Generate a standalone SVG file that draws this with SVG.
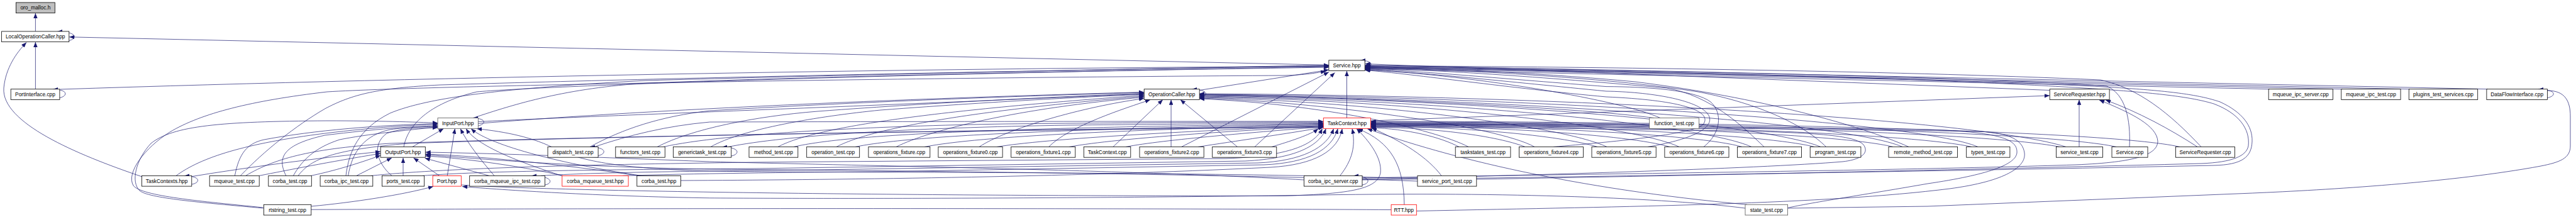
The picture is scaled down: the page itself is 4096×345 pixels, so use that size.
<svg xmlns="http://www.w3.org/2000/svg" width="4096" height="345" viewBox="0 0 4096 345">
<style>
.e{fill:none;stroke:#191970;stroke-width:0.7}
.a{marker-end:url(#ah)}
.n rect{fill:#fff;stroke:#000;stroke-width:0.8}
.n.red rect{stroke:#ff0000}
.n.gry rect{stroke:#555}
.n.root rect{fill:#bfbfbf}
.n text{font-family:"Liberation Sans",Arial,sans-serif;font-size:8.4px;text-anchor:middle;fill:#000}
</style>
<defs>
<marker id="ah" viewBox="0 0 10 8" refX="10" refY="4" markerWidth="8.2" markerHeight="6.5" markerUnits="userSpaceOnUse" orient="auto"><path d="M0,0L10,4L0,8z" fill="#191970"/></marker>
</defs>
<rect width="4096" height="345" fill="#fff"/>
<g id="edges">
<!-- core -->
<path class="e a" d="M56.4,49.9 V21"/>
<path class="e a" d="M109.8,64.5 C122,62 125,50.5 91,50.2"/>
<path class="e a" d="M56.4,141.7 V66.9"/>
<path class="e a" d="M94.9,155.5 C107,153 110,142.5 84,142"/>
<path class="e a" d="M226,281 C120,245 2,195 6,140 C9,108 26,84 42,67.5"/>
<path class="e a" d="M2112.9,103.4 L110.2,58.8"/>
<path class="e a" d="M95.6,142 C700,122 1500,108 2112.9,105.5"/>
<path class="e a" d="M2170.2,108.5 C2183,106.5 2186,96.5 2163,96"/>
<path class="e a" d="M1907.2,143.5 L2112.9,111"/>
<path class="e a" d="M1907.2,155.5 C1921,153 1924,142.5 1895,142"/>
<path class="e a" d="M2141.5,187.6 V112.8"/>
<path class="e a" d="M2179.4,192 L3259,152"/>
<path class="e a" d="M3259.2,143.5 L2170.5,101.5"/>
<path class="e a" d="M3609,141.7 L2170.5,109.5"/>
<path class="e a" d="M3725,141.7 L2170.5,107.5"/>
<path class="e a" d="M3832,141.7 L2170.5,105.5"/>
<path class="e a" d="M3956,141.7 L2170.5,103.5"/>
<path class="e a" d="M4050.5,155.5 C4064,153 4067,142.5 4036,142"/>
<path class="e" d="M4050.5,144 C4078,144 4087,160 4087,185 L4087,232 C4087,252 4070,258 4040,264 C3900,290 3700,302 3581.7,307 L3065,328 L2842.6,331"/>
<!-- IP / OP -->
<path class="e a" d="M760.3,200 C772,198 775,188 752,187.9"/>
<path class="e a" d="M760.3,193.5 C900,186 1400,168 1819.2,149"/>
<path class="e a" d="M752,187.6 C820,165 900,140 1030,132 C1400,118 1900,110 2112.9,107"/>
<path class="e a" d="M655.8,233.5 L705.3,204.6"/>
<path class="e a" d="M642,233.5 C648,200 680,165 758,146 C850,138 1300,120 2112.9,106"/>
<!-- lower left -->
<path class="e a" d="M304.8,293 C318,291 321,280 293,279.6"/>
<path class="e a" d="M280,279.4 C320,250 390,228 516.8,212 C600,202 650,199 696,198"/>
<path class="e a" d="M305,280.6 C400,265 500,252 605.1,241"/>
<path class="e a" d="M373.4,279.4 C380,245 392,228 420,222 C500,207 600,199 696,196.5"/>
<path class="e a" d="M382.3,279.4 C420,240 470,200 516.8,172.8 C560,150 600,140 700,135 C1200,120 1800,110 2112.9,104.5"/>
<path class="e a" d="M412,279.4 C460,270 520,258 605.1,244"/>
<path class="e a" d="M390.6,279.4 C440,250 500,236 620,228 C1000,215 1700,205 2104.3,201"/>
<path class="e a" d="M454.8,279.4 C440,250 450,230 516.8,215 C600,205 650,201 696,200"/>
<path class="e a" d="M466.4,279.4 C480,255 500,235 540,222 C700,190 1300,160 1819.2,146.5"/>
<path class="e a" d="M474,279.4 C495,252 530,238 650,228 C1100,212 1800,205 2104.3,202.5"/>
<path class="e a" d="M494.4,279.4 C530,272 570,260 605.1,247"/>
<path class="e a" d="M553.6,279.4 C560,240 580,215 620,206 C650,202 680,201 696,201.5"/>
<path class="e a" d="M566.8,279.4 L622.9,251"/>
<path class="e a" d="M550,279.4 C555,240 570,205 620,180 C680,155 800,140 1027,128 C1500,115 1900,108 2112.9,103.5"/>
<path class="e a" d="M590,279.4 C700,268 900,262 1200,258 L1950,252 C2050,248 2090,230 2102.6,204.5"/>
<path class="e a" d="M641,279.4 V251"/>
<path class="e a" d="M623,279.4 C600,260 590,230 615,212 C640,203 670,203 696,203"/>
<path class="e a" d="M672,279.4 C750,273 900,270 1200,268 L1980,256 C2060,252 2098,232 2108.3,204.5"/>
<path class="e a" d="M711.2,279.4 L723.4,204.6"/>
<path class="e a" d="M698.7,279.4 L657.5,251"/>
<path class="e a" d="M733.3,294 C900,305 1500,312 2043,311.4 C2150,308 2190,300 2195,275 C2198,250 2175,222 2157,204.6"/>
<path class="e a" d="M866.4,294 C879,292 881,280 845,279.6"/>
<path class="e a" d="M786,279.4 C765,255 745,230 732,204.6"/>
<path class="e a" d="M777.8,279.4 L675.6,251.5"/>
<path class="e a" d="M860,279.4 C950,274 1100,272 1300,270 L2000,259 C2070,256 2110,235 2120.6,204.6"/>
<path class="e a" d="M893,279.4 C840,262 760,235 741,204.6"/>
<path class="e a" d="M895,279.4 C820,262 720,250 676.5,248"/>
<path class="e a" d="M990,279.4 C1100,276 1250,274 1400,273 L2010,262 C2080,259 2118,238 2127.2,204.6"/>
<path class="e a" d="M1020,279.4 C900,262 780,232 749,204.6"/>
<path class="e a" d="M1015,279.4 C900,262 750,247 676.5,245"/>
<path class="e a" d="M1082.6,287 C1300,286 1700,282 2020,266 C2090,262 2128,240 2134.2,204.6"/>
<!-- rtstring / RTT / state -->
<path class="e a" d="M418.6,331 C320,322 235,315 222,303 C208,290 215,255 240,228 C275,200 350,193 520,192 C600,192 660,194 696,195.5"/>
<path class="e a" d="M418.6,330 C320,320 225,312 212,295 C200,275 230,235 270,210 C320,180 400,160 520,146 C700,135 1500,123 2043,120 C2075,119 2095,116 2108,112.8"/>
<path class="e a" d="M494.8,328 C560,322 640,310 689,296.4"/>
<path class="e" d="M494.8,333.2 C1000,331 1800,331 2212.1,333.5"/>
<path class="e a" d="M2232.9,325.3 C2232,262 2212,226 2159,204.6"/>
<path class="e a" d="M2252.3,335.5 C2600,328 2900,325 3100,300 C3190,288 3222,265 3219,243 C3216,222 3195,212 3150,209 C2900,205 2400,201 2179.4,199"/>
<path class="e a" d="M2775,331 C2650,315 2400,305 2100,310 C1700,316 1300,316 1128.6,314.8 C950,312 800,302 735,296.5"/>
<path class="e a" d="M2778,325.3 C2500,300 2300,250 2174,204.6"/>
<path class="e a" d="M2842.6,330.5 C2880,322 2950,312 3065,292 C3160,278 3205,262 3207,243 C3208,224 3190,210 3065,206 C2800,202 2400,199 2179.4,197.5"/>
<!-- corba_ipc_server / service_port_test -->
<path class="e a" d="M2166,294 C2179,292 2181,280 2152,279.6"/>
<path class="e a" d="M2130.7,279.4 C2150,255 2156,232 2150,204.6"/>
<path class="e a" d="M2166,283 C2400,278 3000,272 3300,262 C3400,258 3430,245 3431,225 C3430,200 3390,180 3338,159"/>
<path class="e a" d="M2073.4,286 C1800,270 1300,262 1128.6,257 C950,250 800,244 676.5,242"/>
<path class="e a" d="M2166,284.5 C2400,280 2800,268 2930,257 C2965,253 2972,240 2962,229 C2945,214 2880,210 2700,207 C2500,204 2300,202 2179.4,201.5"/>
<path class="e a" d="M2166,286 C2500,281 3100,272 3520,263 C3565,262 3580,250 3581,225 C3582,200 3565,178 3530,162 C3480,145 3400,138 3100,128 C2700,116 2350,110 2170.5,108"/>
<path class="e a" d="M2292,279.4 C2270,250 2230,225 2181,203.5"/>
<path class="e a" d="M2253.9,284 C1900,272 1300,275 1128.6,272 C980,268 920,255 880,235 C840,215 790,208 758,204.6"/>
<path class="e a" d="M2253.9,288 C2000,278 1500,272 1128.6,269 C900,265 760,252 676.5,246"/>
<path class="e a" d="M2347.8,285 C2700,279 3200,268 3500,260 C3550,258 3572,248 3575,232 C3578,205 3560,180 3520,165 C3470,150 3380,140 3000,125 C2600,112 2300,108 2170.5,106.5"/>
<!-- rank5 left -->
<path class="e a" d="M951.1,247.5 C964,245 966,234 938,233.8"/>
<path class="e a" d="M938,233.5 C990,205 1050,185 1128.6,176 C1400,160 1650,152 1819.2,147"/>
<path class="e a" d="M945,233.5 C1000,215 1060,200 1128.6,194 C1500,193 1850,193 2104.3,193"/>
<path class="e a" d="M1045,233.5 C1100,205 1200,185 1300,177 C1500,162 1700,153 1819.2,148.5"/>
<path class="e a" d="M1055,233.5 C1150,212 1400,200 1600,197 C1800,195 2000,194 2104.3,194"/>
<path class="e a" d="M1162.8,248 C1176,245.5 1178,234 1148,233.8"/>
<path class="e a" d="M1130,233.5 C1180,205 1300,185 1400,175 C1600,160 1750,153 1819.2,150"/>
<path class="e a" d="M1158,233.5 C1250,215 1450,203 1700,199 C1900,197 2050,195.5 2104.3,195.5"/>
<path class="e a" d="M1237,233.5 C1290,205 1450,178 1819.2,151.5"/>
<path class="e a" d="M1262,233.5 C1350,213 1600,203 2104.3,196.5"/>
<path class="e a" d="M1330,233.5 C1380,207 1520,178 1819.2,153"/>
<path class="e a" d="M1360,233.5 C1450,215 1700,205 2104.3,197.5"/>
<path class="e a" d="M1425,233.5 C1480,206 1620,172 1819.2,154.5"/>
<path class="e a" d="M1470,233.5 C1560,216 1800,206 2104.3,198.5"/>
<path class="e a" d="M1557,233.5 C1600,205 1720,170 1819.2,156.5"/>
<path class="e a" d="M1585,233.5 C1680,218 1950,206 2104.3,199.5"/>
<path class="e a" d="M1667.6,233.5 C1700,200 1790,172 1829,158.6"/>
<path class="e a" d="M1700,233.5 C1780,219 1980,207 2104.3,200.5"/>
<path class="e a" d="M1769.8,233.5 L1848.9,158.6"/>
<path class="e a" d="M1790,233.5 C1850,222 2000,210 2104.3,201.5"/>
<path class="e a" d="M1862.1,233.5 V158.6"/>
<path class="e a" d="M1878.6,233.5 L2113,114.6"/>
<path class="e a" d="M1905,233.5 C1960,225 2050,212 2104.3,202.5"/>
<path class="e a" d="M1967.6,233.5 L1876.9,158.6"/>
<path class="e a" d="M1995,233.5 L2122.5,115.5"/>
<path class="e a" d="M2022,233.5 C2050,225 2085,214 2096,204.6"/>
<!-- rank5 right -->
<path class="e a" d="M2320,233.5 C2290,218 2240,205 2179.4,203"/>
<path class="e a" d="M2335,233.5 C2280,205 2100,165 1907.2,157"/>
<path class="e a" d="M2425,233.5 C2380,216 2280,203 2179.4,202"/>
<path class="e a" d="M2440,233.5 C2380,200 2100,162 1907.2,156"/>
<path class="e a" d="M2470,233.5 C2560,226 2690,214 2708,198 C2722,180 2690,160 2554,154 C2400,140 2250,118 2170.5,111.5"/>
<path class="e a" d="M2540,233.5 C2480,215 2320,201 2179.4,201"/>
<path class="e a" d="M2555,233.5 C2480,198 2150,160 1907.2,155"/>
<path class="e a" d="M2620,233.5 C2700,220 2728,200 2716,182 C2700,158 2620,146 2554,145 C2400,130 2250,114 2170.5,110.5"/>
<path class="e a" d="M2655,233.5 C2590,214 2360,200 2179.4,200"/>
<path class="e a" d="M2670,233.5 C2590,196 2200,158 1907.2,154"/>
<path class="e a" d="M2709,233.5 C2736,212 2740,180 2720,162 C2695,143 2620,138 2554,137.6 C2400,126 2250,112 2170.5,109.5"/>
<path class="e a" d="M2770,233.5 C2700,213 2400,199 2179.4,199"/>
<path class="e a" d="M2785,233.5 C2700,195 2250,157 1907.2,153"/>
<path class="e a" d="M2805,233.5 C2770,200 2720,152 2650,140 C2450,122 2270,110 2170.5,108.5"/>
<path class="e a" d="M2885,233.5 C2800,212 2450,198 2179.4,198"/>
<path class="e a" d="M2895,233.5 C2800,194 2300,156 1907.2,152"/>
<path class="e a" d="M2903.6,233.5 C2870,200 2800,165 2700,146 C2550,122 2300,110 2170.5,107.5"/>
<path class="e a" d="M3010,233.5 C2920,211 2500,197 2179.4,197"/>
<path class="e a" d="M3025,233.5 C2930,192 2350,155 1907.2,151"/>
<path class="e a" d="M3035,233.5 C2960,200 2800,155 2600,130 C2450,116 2280,108 2170.5,106.5"/>
<path class="e a" d="M3135,233.5 C3030,210 2550,196 2179.4,196"/>
<path class="e a" d="M3145,233.5 C3050,192 2400,153 1907.2,150"/>
<path class="e a" d="M3275,233.5 C3150,209 2600,195 2179.4,195"/>
<path class="e a" d="M3285,233.5 C3150,190 2500,152 1907.2,149"/>
<path class="e a" d="M3306,233.5 V158.6"/>
<path class="e a" d="M3365,233.5 C3250,208 2650,194 2179.4,194"/>
<path class="e a" d="M3386,233.5 C3388,190 3380,150 3350,137 C3200,124 2500,108 2170.5,105.5"/>
<path class="e a" d="M3466,233.5 C3350,207 2700,193 2179.4,193"/>
<path class="e a" d="M3494,233.5 C3450,205 3400,178 3348,159"/>
<path class="e a" d="M3500,233.5 C3450,180 3400,140 3340,127 C3000,112 2500,106 2170.5,104.5"/>
<path class="e a" d="M2622.7,198 C2450,198 2300,197 2179.4,196.5"/>
<path class="e a" d="M2630,187.6 C2500,170 2150,155 1907.2,150"/>
<path class="e a" d="M2640,187.6 C2580,160 2350,120 2170.5,111"/>
</g>
<g id="n_oro_malloc" class="n root"><rect x="25.4" y="4" width="61.9" height="16.7"/><text x="56.4" y="15.4">oro_malloc.h</text></g>
<g id="n_LocalOperationCaller" class="n"><rect x="2.6" y="49.9" width="107.2" height="16.7"/><text x="56.2" y="61.3">LocalOperationCaller.hpp</text></g>
<g id="n_Service_hpp" class="n"><rect x="2112.9" y="95.8" width="57.3" height="16.7"/><text x="2141.5" y="107.2">Service.hpp</text></g>
<g id="n_PortInterface" class="n"><rect x="17.2" y="141.7" width="77.7" height="16.7"/><text x="56" y="153.1">PortInterface.cpp</text></g>
<g id="n_OperationCaller" class="n"><rect x="1819.2" y="141.7" width="88" height="16.7"/><text x="1863.2" y="153.1">OperationCaller.hpp</text></g>
<g id="n_ServiceRequester_hpp" class="n"><rect x="3259.2" y="141.7" width="94.9" height="16.7"/><text x="3306.6" y="153.1">ServiceRequester.hpp</text></g>
<g id="n_mqueue_ipc_server" class="n"><rect x="3607.2" y="141.7" width="102.2" height="16.7"/><text x="3658.3" y="153.1">mqueue_ipc_server.cpp</text></g>
<g id="n_mqueue_ipc_test" class="n"><rect x="3722.8" y="141.7" width="94.3" height="16.7"/><text x="3770" y="153.1">mqueue_ipc_test.cpp</text></g>
<g id="n_plugins_test_services" class="n"><rect x="3830.3" y="141.7" width="109.4" height="16.7"/><text x="3885" y="153.1">plugins_test_services.cpp</text></g>
<g id="n_DataFlowInterface" class="n"><rect x="3953.9" y="141.7" width="96.6" height="16.7"/><text x="4002.2" y="153.1">DataFlowInterface.cpp</text></g>
<g id="n_InputPort" class="n gry"><rect x="696" y="187.6" width="64.3" height="16.7"/><text x="728.2" y="199">InputPort.hpp</text></g>
<g id="n_TaskContext_hpp" class="n red"><rect x="2104.3" y="187.6" width="75.1" height="16.7"/><text x="2141.9" y="199">TaskContext.hpp</text></g>
<g id="n_function_test" class="n gry"><rect x="2622.7" y="187.6" width="78.8" height="16.7"/><text x="2662.1" y="199">function_test.cpp</text></g>
<g id="n_OutputPort" class="n"><rect x="605.1" y="233.5" width="71.2" height="16.7"/><text x="640.7" y="244.9">OutputPort.hpp</text></g>
<g id="n_dispatch_test" class="n"><rect x="871" y="233.5" width="80.1" height="16.7"/><text x="911" y="244.9">dispatch_test.cpp</text></g>
<g id="n_functors_test" class="n"><rect x="978.8" y="233.5" width="78.5" height="16.7"/><text x="1018" y="244.9">functors_test.cpp</text></g>
<g id="n_generictask_test" class="n"><rect x="1070.4" y="233.5" width="92.4" height="16.7"/><text x="1116.6" y="244.9">generictask_test.cpp</text></g>
<g id="n_method_test" class="n"><rect x="1191" y="233.5" width="77.8" height="16.7"/><text x="1229.9" y="244.9">method_test.cpp</text></g>
<g id="n_operation_test" class="n"><rect x="1282.7" y="233.5" width="84" height="16.7"/><text x="1324.7" y="244.9">operation_test.cpp</text></g>
<g id="n_operations_fixture" class="n"><rect x="1380.9" y="233.5" width="97.9" height="16.7"/><text x="1429.9" y="244.9">operations_fixture.cpp</text></g>
<g id="n_operations_fixture0" class="n"><rect x="1491.9" y="233.5" width="102.2" height="16.7"/><text x="1543" y="244.9">operations_fixture0.cpp</text></g>
<g id="n_operations_fixture1" class="n"><rect x="1607.7" y="233.5" width="102.1" height="16.7"/><text x="1658.8" y="244.9">operations_fixture1.cpp</text></g>
<g id="n_TaskContext_cpp" class="n"><rect x="1723.3" y="233.5" width="74.5" height="16.7"/><text x="1760.6" y="244.9">TaskContext.cpp</text></g>
<g id="n_operations_fixture2" class="n"><rect x="1812" y="233.5" width="102.2" height="16.7"/><text x="1863.1" y="244.9">operations_fixture2.cpp</text></g>
<g id="n_operations_fixture3" class="n"><rect x="1927.7" y="233.5" width="102.1" height="16.7"/><text x="1978.8" y="244.9">operations_fixture3.cpp</text></g>
<g id="n_taskstates_test" class="n"><rect x="2314.2" y="233.5" width="87.7" height="16.7"/><text x="2358" y="244.9">taskstates_test.cpp</text></g>
<g id="n_operations_fixture4" class="n"><rect x="2415.4" y="233.5" width="102.2" height="16.7"/><text x="2466.5" y="244.9">operations_fixture4.cpp</text></g>
<g id="n_operations_fixture5" class="n"><rect x="2531" y="233.5" width="102.2" height="16.7"/><text x="2582.1" y="244.9">operations_fixture5.cpp</text></g>
<g id="n_operations_fixture6" class="n"><rect x="2646.9" y="233.5" width="102.1" height="16.7"/><text x="2698" y="244.9">operations_fixture6.cpp</text></g>
<g id="n_operations_fixture7" class="n"><rect x="2762.5" y="233.5" width="102.1" height="16.7"/><text x="2813.5" y="244.9">operations_fixture7.cpp</text></g>
<g id="n_program_test" class="n"><rect x="2878.2" y="233.5" width="80.7" height="16.7"/><text x="2918.5" y="244.9">program_test.cpp</text></g>
<g id="n_remote_method_test" class="n"><rect x="3003" y="233.5" width="109.6" height="16.7"/><text x="3057.8" y="244.9">remote_method_test.cpp</text></g>
<g id="n_types_test" class="n"><rect x="3126.7" y="233.5" width="69.2" height="16.7"/><text x="3161.3" y="244.9">types_test.cpp</text></g>
<g id="n_service_test" class="n"><rect x="3269.4" y="233.5" width="74.1" height="16.7"/><text x="3306.5" y="244.9">service_test.cpp</text></g>
<g id="n_Service_cpp" class="n"><rect x="3358" y="233.5" width="57" height="16.7"/><text x="3386.5" y="244.9">Service.cpp</text></g>
<g id="n_ServiceRequester_cpp" class="n"><rect x="3459.5" y="233.5" width="93.9" height="16.7"/><text x="3506.5" y="244.9">ServiceRequester.cpp</text></g>
<g id="n_TaskContexts" class="n"><rect x="225.4" y="279.4" width="79.4" height="16.7"/><text x="265.1" y="290.8">TaskContexts.hpp</text></g>
<g id="n_mqueue_test" class="n"><rect x="333.2" y="279.4" width="79" height="16.7"/><text x="372.7" y="290.8">mqueue_test.cpp</text></g>
<g id="n_corba_test_cpp" class="n"><rect x="426.8" y="279.4" width="68.5" height="16.7"/><text x="461" y="290.8">corba_test.cpp</text></g>
<g id="n_corba_ipc_test" class="n"><rect x="509.1" y="279.4" width="83.7" height="16.7"/><text x="551" y="290.8">corba_ipc_test.cpp</text></g>
<g id="n_ports_test" class="n"><rect x="607.4" y="279.4" width="67.2" height="16.7"/><text x="641" y="290.8">ports_test.cpp</text></g>
<g id="n_Port" class="n red"><rect x="688.1" y="279.4" width="45.2" height="16.7"/><text x="710.7" y="290.8">Port.hpp</text></g>
<g id="n_corba_mqueue_ipc_test" class="n"><rect x="746.7" y="279.4" width="119.7" height="16.7"/><text x="806.5" y="290.8">corba_mqueue_ipc_test.cpp</text></g>
<g id="n_corba_mqueue_test" class="n red"><rect x="893.8" y="279.4" width="105.3" height="16.7"/><text x="946.4" y="290.8">corba_mqueue_test.hpp</text></g>
<g id="n_corba_test_hpp" class="n"><rect x="1012.8" y="279.4" width="69.8" height="16.7"/><text x="1047.7" y="290.8">corba_test.hpp</text></g>
<g id="n_corba_ipc_server" class="n"><rect x="2073.4" y="279.4" width="92.6" height="16.7"/><text x="2119.7" y="290.8">corba_ipc_server.cpp</text></g>
<g id="n_service_port_test" class="n"><rect x="2253.9" y="279.4" width="93.9" height="16.7"/><text x="2300.8" y="290.8">service_port_test.cpp</text></g>
<g id="n_rtstring_test" class="n"><rect x="419.4" y="325.3" width="75.4" height="16.7"/><text x="457.1" y="336.7">rtstring_test.cpp</text></g>
<g id="n_RTT" class="n red"><rect x="2212.1" y="325.3" width="40.2" height="16.7"/><text x="2232.2" y="336.7">RTT.hpp</text></g>
<g id="n_state_test" class="n gry"><rect x="2775" y="325.3" width="67.6" height="16.7"/><text x="2808.8" y="336.7">state_test.cpp</text></g>
</svg>
